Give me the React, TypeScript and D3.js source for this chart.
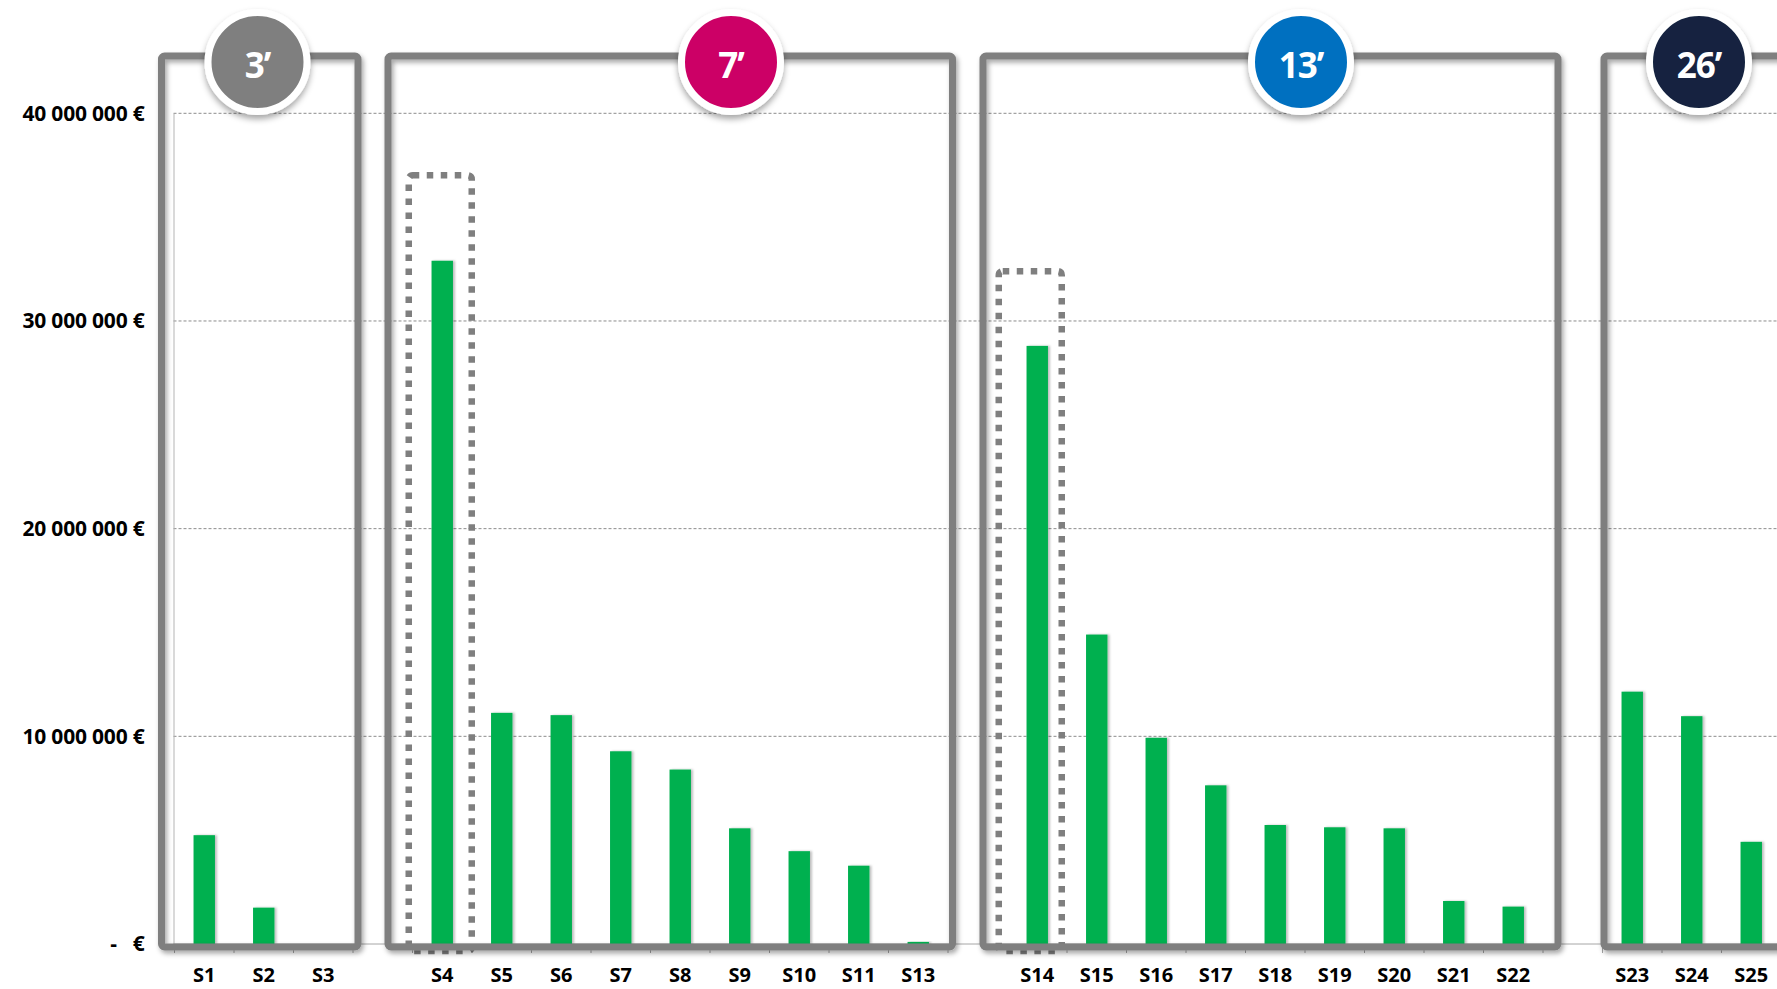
import * as d3 from "d3";
import { useEffect, useRef } from "react";

// slot labels, "" = empty slot between groups
const categories = [
	"S1", "S2", "S3", "",
	"S4", "S5", "S6", "S7", "S8", "S9", "S10", "S11", "S13", "",
	"S14", "S15", "S16", "S17", "S18", "S19", "S20", "S21", "S22", "",
	"S23", "S24", "S25",
];
const values: (number | null)[] = [
	5.24e6, 1.75e6, 0, null,
	32.9e6, 11.13e6, 11.02e6, 9.28e6, 8.4e6, 5.57e6, 4.47e6, 3.77e6, 0.1e6, null,
	28.8e6, 14.9e6, 9.93e6, 7.64e6, 5.73e6, 5.62e6, 5.57e6, 2.07e6, 1.8e6, null,
	12.15e6, 10.97e6, 4.92e6,
];
const yTicks = [0, 10e6, 20e6, 30e6, 40e6];
const groupLabels = ["3’", "7’", "13’", "26’"];
const groupColors = ["#7F7F7F", "#CC0066", "#0070C0", "#13243F"];
const groupFirst = ["S1", "S4", "S14", "S23"];
const groupLast = ["S3", "S13", "S22", "S25"];
const highlighted = ["S4", "S14"];

const width = 1777;
const height = 989;
const plotLeft = 174.5;
const slotStep = 59.5;
const yBase = 944;
const yTop = 113.3;
const frameTop = 56;
const frameBottom = 947;
// hand placed frames: [left pad, right pad] against the group's slots
const framePad = [
	[-13, 5],
	[-24.5, 4.5],
	[-24.5, 15],
	[1.5, 60],
];
const badgeOffset = [96, 343, 318, 95];
// small nudge of the dotted boxes from the bar centre
const boxShift = [-2, -7];
const font = "'Open Sans', sans-serif";

function App() {
	const ref = useRef<SVGSVGElement>(null);

	useEffect(() => {
		const svg = d3.select(ref.current);
		svg.selectAll("*").remove();

		const x = d3
			.scaleBand<number>()
			.domain(d3.range(categories.length))
			.range([plotLeft, plotLeft + categories.length * slotStep])
			.paddingInner(0.64)
			.paddingOuter(0.32);
		const y = d3.scaleLinear().domain([0, 40e6]).range([yBase, yTop]);
		const center = (i: number) => x(i)! + x.bandwidth() / 2;
		const slotStart = (i: number) => center(i) - x.step() / 2;

		const defs = svg.append("defs");
		const shadow = (id: string, dx: number, dy: number, sd: number, op: number) =>
			defs
				.append("filter")
				.attr("id", id)
				.attr("x", "-20%")
				.attr("y", "-20%")
				.attr("width", "140%")
				.attr("height", "140%")
				.append("feDropShadow")
				.attr("dx", dx)
				.attr("dy", dy)
				.attr("stdDeviation", sd)
				.attr("flood-color", "#000")
				.attr("flood-opacity", op);
		shadow("frameShadow", 2, 3, 2.5, 0.35);
		shadow("barShadow", 2, 0, 1, 0.25);
		shadow("badgeShadow", 0, 4, 3, 0.35);

		svg.append("rect").attr("width", width).attr("height", height).attr("fill", "#fff");

		// gridlines
		svg.append("g")
			.selectAll("line")
			.data(yTicks.filter((t) => t > 0))
			.enter()
			.append("line")
			.attr("x1", plotLeft - 1)
			.attr("x2", width)
			.attr("y1", (d) => y(d))
			.attr("y2", (d) => y(d))
			.attr("stroke", "#8c8c8c")
			.attr("stroke-width", 1)
			.attr("stroke-dasharray", "3,2");

		// y axis
		const locale = d3.formatLocale({
			decimal: ",",
			thousands: " ",
			grouping: [3],
			currency: ["", " €"],
		});
		const fmt = locale.format("$,.0f");
		const yAxis = svg
			.append("g")
			.attr("transform", "translate(" + (plotLeft - 1) + ",0)")
			.call(
				d3
					.axisLeft(y)
					.tickValues(yTicks)
					.tickSize(0)
					.tickPadding(29)
					.tickFormat((d) => (+d === 0 ? "-   €" : fmt(+d)))
			);
		yAxis.select(".domain").attr("stroke", "#b3b3b3");
		yAxis.selectAll("text")
			.attr("xml:space", "preserve")
			.style("white-space", "pre")
			.style("font-family", font)
			.style("font-weight", "700")
			.style("font-size", "21px")
			.style("letter-spacing", "-0.2px")
			.attr("fill", "#000");

		// baseline + slot ticks
		svg.append("line")
			.attr("x1", plotLeft - 1)
			.attr("x2", width)
			.attr("y1", yBase)
			.attr("y2", yBase)
			.attr("stroke", "#a6a6a6");
		svg.append("g")
			.selectAll("line")
			.data(d3.range(categories.length + 1))
			.enter()
			.append("line")
			.attr("x1", (i) => plotLeft + i * slotStep)
			.attr("x2", (i) => plotLeft + i * slotStep)
			.attr("y1", yBase)
			.attr("y2", yBase + 9)
			.attr("stroke", "#a6a6a6");

		// x labels
		svg.append("g")
			.selectAll("text")
			.data(categories.map((c, i) => ({ c, i })).filter((d) => d.c !== ""))
			.enter()
			.append("text")
			.attr("x", (d) => center(d.i))
			.attr("y", 982)
			.attr("text-anchor", "middle")
			.style("font-family", font)
			.style("font-weight", "700")
			.style("font-size", "20px")
			.text((d) => d.c);

		// bars
		const barData = values
			.map((v, i) => ({ v, i }))
			.filter((d) => d.v !== null && d.v > 0) as { v: number; i: number }[];
		svg.append("g")
			.selectAll("rect")
			.data(barData)
			.enter()
			.append("rect")
			.attr("x", (d) => x(d.i)!)
			.attr("width", x.bandwidth())
			.attr("y", (d) => y(d.v))
			.attr("height", (d) => yBase - y(d.v))
			.attr("fill", "#00B050")
			.attr("filter", "url(#barShadow)");

		// dotted highlight boxes
		svg.append("g")
			.selectAll("rect")
			.data(highlighted.map((h) => categories.indexOf(h)))
			.enter()
			.append("rect")
			.attr("x", (i, k) => center(i) - 31.5 + boxShift[k])
			.attr("width", 63)
			.attr("y", (i) => y((values[i] as number) * 1.125))
			.attr("height", (i) => 951 - y((values[i] as number) * 1.125))
			.attr("rx", 4)
			.attr("fill", "none")
			.attr("stroke", "#7F7F7F")
			.attr("stroke-width", 6.5)
			.attr("stroke-dasharray", "6.5,7.5");

		// group frames
		const frames = groupLabels.map((label, g) => {
			const first = categories.indexOf(groupFirst[g]);
			const last = categories.indexOf(groupLast[g]);
			const left = slotStart(first) + framePad[g][0];
			const right = slotStart(last) + x.step() + framePad[g][1];
			return { label, g, left, right };
		});
		svg.append("g")
			.selectAll("rect")
			.data(frames)
			.enter()
			.append("rect")
			.attr("x", (d) => d.left)
			.attr("width", (d) => d.right - d.left)
			.attr("y", frameTop)
			.attr("height", frameBottom - frameTop)
			.attr("rx", 3)
			.attr("fill", "none")
			.attr("stroke", "#7F7F7F")
			.attr("stroke-width", 7)
			.attr("filter", "url(#frameShadow)");

		// badges
		const badges = svg
			.append("g")
			.selectAll("g")
			.data(frames)
			.enter()
			.append("g")
			.attr("transform", (d) => "translate(" + (d.left + badgeOffset[d.g]) + ",62)");
		badges
			.append("circle")
			.attr("r", 49.5)
			.attr("fill", (d) => groupColors[d.g])
			.attr("stroke", "#fff")
			.attr("stroke-width", 7)
			.attr("filter", "url(#badgeShadow)");
		badges
			.append("text")
			.attr("y", 16)
			.attr("text-anchor", "middle")
			.attr("fill", "#fff")
			.style("font-family", font)
			.style("font-weight", "700")
			.style("font-size", "35px")
			.style("letter-spacing", "-1px")
			.text((d) => d.label);
	}, []);

	return (
		<svg
			ref={ref}
			width={width}
			height={height}
			style={{ position: "absolute", left: 0, top: 0 }}
		></svg>
	);
}

export default App;
